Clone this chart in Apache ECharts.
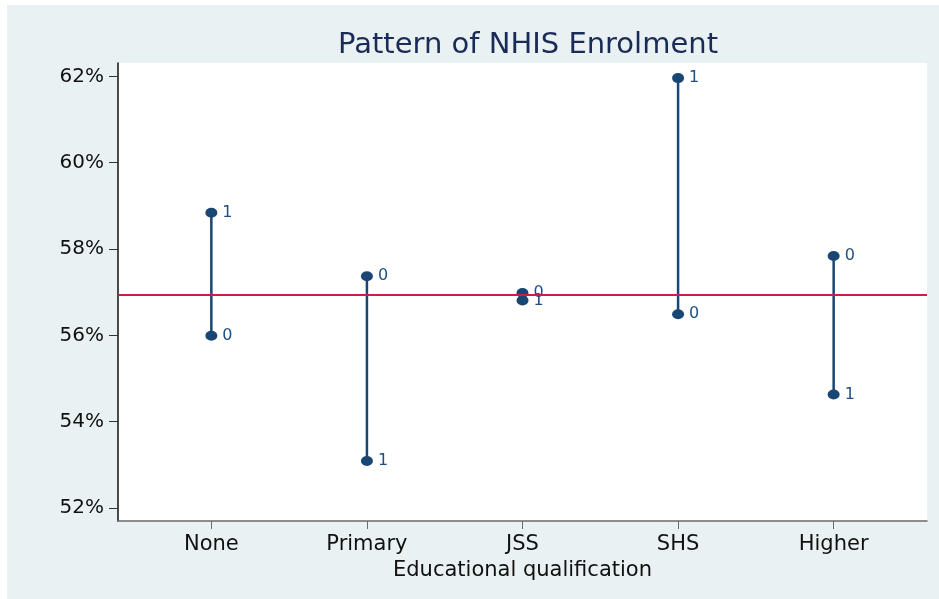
<!DOCTYPE html>
<html>
<head>
<meta charset="utf-8">
<script src="https://cdn.jsdelivr.net/npm/echarts@6/dist/echarts.min.js"></script>
<style>
  html, body { margin: 0; padding: 0; background: #fff; }
  #main { width: 939px; height: 599px; }
</style>
</head>
<body>
<div id="main"></div>
<script>
var myChart = echarts.init(document.getElementById('main'));

// Educational qualification groups
const categories = ['None', 'Primary', 'JSS', 'SHS', 'Higher'];
// Percent enrolled in NHIS, by group 0 and group 1
const group0 = [55.99, 57.37, 56.98, 56.49, 57.84];
const group1 = [58.84, 53.09, 56.81, 61.96, 54.63];
// Overall mean (red reference line)
const overallMean = 56.95;
// Y tick values
const yTicks = [52, 54, 56, 58, 60, 62];

const xPos = categories.map((c, i) => i + 1);
const navy = '#1a4674';
const font = 'DejaVu Sans';

// label style shared by both marker series
function pointLabel(text) {
    return {
        show: true,
        position: 'right',
        distance: 5,
        formatter: text,
        fontFamily: font,
        fontSize: 16,
        color: '#1f4f80'
    };
}

var option = {
    animation: false,
    graphic: [{
        type: 'rect',
        left: 7, top: 5,
        shape: { width: 932, height: 594 },
        style: { fill: '#eaf1f3' },
        z: -10
    }],
    title: {
        text: 'Pattern of NHIS Enrolment',
        left: 523,
        textAlign: 'center',
        top: 26,
        textStyle: {
            fontFamily: font,
            fontSize: 29,
            fontWeight: 'normal',
            color: '#1a2b58'
        }
    },
    grid: {
        left: 118,
        right: 12,
        top: 63,
        bottom: 78,
        show: true,
        backgroundColor: '#ffffff',
        borderWidth: 0
    },
    xAxis: {
        type: 'value',
        min: 0.4,
        max: 5.6,
        name: 'Educational qualification',
        nameLocation: 'middle',
        nameGap: 29,
        nameTextStyle: { fontFamily: font, fontSize: 21, color: '#111' },
        axisLine: { show: true, lineStyle: { color: '#6b6b6b', width: 1.5 } },
        axisTick: { show: true, length: 8, customValues: xPos, lineStyle: { color: '#6b6b6b' } },
        axisLabel: {
            customValues: xPos,
            formatter: v => categories[Math.round(v) - 1],
            fontFamily: font,
            fontSize: 21,
            color: '#111',
            margin: 13
        },
        splitLine: { show: false }
    },
    yAxis: {
        type: 'value',
        min: 51.7,
        max: 62.31,
        axisLine: { show: true, lineStyle: { color: '#111', width: 1.5 } },
        axisTick: { show: true, length: 9, customValues: yTicks, lineStyle: { color: '#333' } },
        axisLabel: {
            customValues: yTicks,
            formatter: v => Math.round(v) + '%',
            fontFamily: font,
            fontSize: 20,
            color: '#111',
            margin: 14
        },
        splitLine: { show: false }
    },
    series: [
        {
            // vertical range line between the two groups
            type: 'custom',
            silent: true,
            data: xPos.map((x, i) => [x, group0[i], group1[i]]),
            renderItem: function (params, api) {
                const a = api.coord([api.value(0), api.value(1)]);
                const b = api.coord([api.value(0), api.value(2)]);
                return {
                    type: 'line',
                    shape: { x1: a[0], y1: a[1], x2: b[0], y2: b[1] },
                    style: { stroke: navy, lineWidth: 2.5 }
                };
            },
            z: 2,
            markLine: {
                silent: true,
                symbol: 'none',
                label: { show: false },
                lineStyle: { color: '#d11a45', width: 2, type: 'solid' },
                data: [{ yAxis: overallMean }]
            }
        },
        {
            name: '0',
            type: 'scatter',
            silent: true,
            data: xPos.map((x, i) => [x, group0[i]]),
            symbol: 'circle',
            symbolSize: [12, 10],
            itemStyle: { color: navy, opacity: 1 },
            label: pointLabel('0'),
            z: 3
        },
        {
            name: '1',
            type: 'scatter',
            silent: true,
            data: xPos.map((x, i) => [x, group1[i]]),
            symbol: 'circle',
            symbolSize: [12, 10],
            itemStyle: { color: navy, opacity: 1 },
            label: pointLabel('1'),
            z: 3
        }
    ]
};

myChart.setOption(option);
</script>
</body>
</html>
